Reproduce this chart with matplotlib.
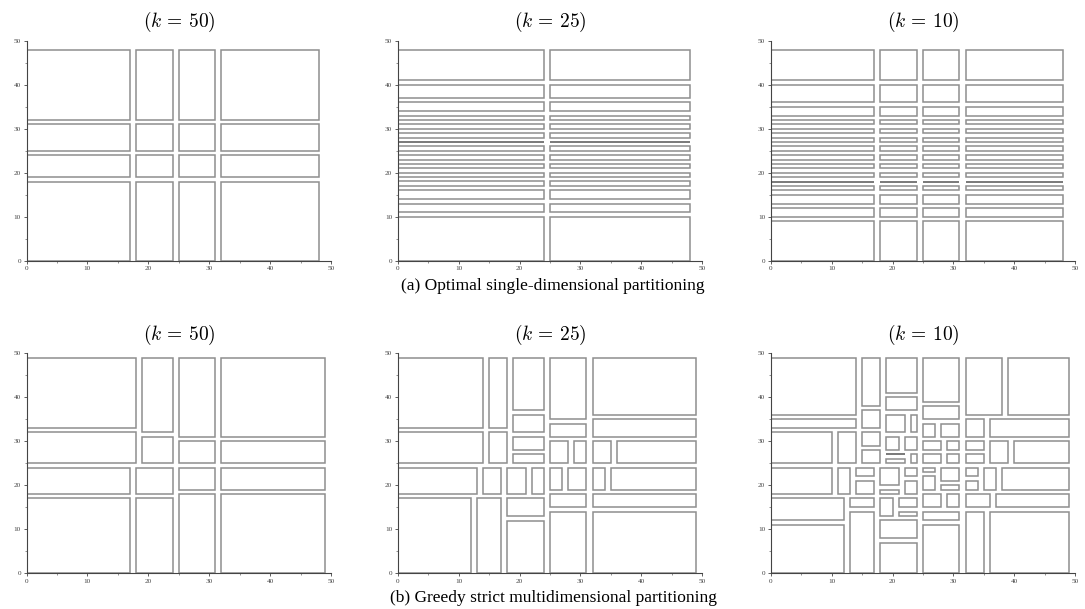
import matplotlib
matplotlib.use('Agg')
import matplotlib.pyplot as plt
from matplotlib.patches import Rectangle
from matplotlib.ticker import MultipleLocator

# --- data: bucket bounds, (lo, hi) in cell units ---
# (a) optimal single-dimensional partitioning -> grid of column x row
cols_a50 = [(0, 17), (18, 24), (25, 31), (32, 48)]
rows_a50 = [(0, 18), (19, 24), (25, 31), (32, 48)]

cols_a25 = [(0, 24), (25, 48)]
rows_a25 = [(0, 10), (11, 13), (14, 16), (17, 18), (19, 20), (21, 22), (23, 24),
            (25, 26), (27, 27), (28, 29), (30, 31), (32, 33), (34, 36), (37, 40), (41, 48)]

cols_a10 = [(0, 17), (18, 24), (25, 31), (32, 48)]
rows_a10 = [(0, 9), (10, 12), (13, 15), (16, 17), (18, 18), (19, 20), (21, 22), (23, 24),
            (25, 26), (27, 28), (29, 30), (31, 32), (33, 35), (36, 40), (41, 48)]

# (b) greedy strict multidimensional partitioning, (x0, x1, y0, y1)
rects_b50 = [
    (0, 18, 33, 49), (0, 18, 25, 32), (19, 24, 32, 49), (19, 24, 25, 31),
    (0, 17, 18, 24), (0, 17, 0, 17), (18, 24, 18, 24), (18, 24, 0, 17),
    (25, 31, 31, 49), (25, 31, 25, 30), (25, 31, 19, 24), (25, 31, 0, 18),
    (32, 49, 31, 49), (32, 49, 25, 30), (32, 49, 19, 24), (32, 49, 0, 18),
]

rects_b25 = [
    (0, 14, 33, 49), (0, 14, 25, 32), (15, 18, 33, 49), (15, 18, 25, 32),
    (19, 24, 37, 49), (19, 24, 32, 36), (19, 24, 28, 31), (19, 24, 25, 27),
    (25, 31, 35, 49), (25, 31, 31, 34), (25, 28, 25, 30), (29, 31, 25, 30),
    (32, 49, 36, 49), (32, 49, 31, 35), (32, 35, 25, 30), (36, 49, 25, 30),
    (0, 13, 18, 24), (14, 17, 18, 24), (18, 21, 18, 24), (22, 24, 18, 24),
    (25, 27, 19, 24), (28, 31, 19, 24), (32, 34, 19, 24), (35, 49, 19, 24),
    (0, 12, 0, 17), (13, 17, 0, 17), (18, 24, 13, 17), (18, 24, 0, 12),
    (25, 31, 15, 18), (25, 31, 0, 14), (32, 49, 15, 18), (32, 49, 0, 14),
]

rects_b10 = [
    (0, 14, 36, 49), (0, 14, 33, 35), (0, 10, 25, 32), (11, 14, 25, 32),
    (0, 10, 18, 24), (11, 13, 18, 24), (0, 12, 12, 17), (0, 12, 0, 11),
    (15, 18, 38, 49), (15, 18, 33, 37), (15, 18, 29, 32), (15, 18, 25, 28),
    (14, 17, 22, 24), (14, 17, 18, 21), (13, 17, 15, 17), (13, 17, 0, 14),
    (19, 24, 41, 49), (19, 24, 37, 40), (19, 22, 32, 36), (23, 24, 32, 36),
    (19, 21, 28, 31), (22, 24, 28, 31), (19, 22, 27, 27), (19, 22, 25, 26),
    (23, 24, 25, 27),
    (18, 21, 20, 24), (18, 21, 18, 19), (22, 24, 22, 24), (22, 24, 18, 21),
    (18, 20, 13, 17), (21, 24, 15, 17), (21, 24, 13, 14), (18, 24, 8, 12),
    (18, 24, 0, 7),
    (25, 31, 39, 49), (25, 31, 35, 38), (25, 27, 31, 34), (28, 31, 31, 34),
    (25, 28, 28, 30), (29, 31, 28, 30), (25, 28, 25, 27), (29, 31, 25, 27),
    (25, 27, 23, 24), (28, 31, 21, 24), (25, 27, 19, 22), (28, 31, 19, 20),
    (25, 28, 15, 18), (29, 31, 15, 18), (25, 31, 12, 14), (25, 31, 0, 11),
    (32, 38, 36, 49), (39, 49, 36, 49), (32, 35, 31, 35), (36, 49, 31, 35),
    (32, 35, 28, 30), (32, 35, 25, 27), (36, 39, 25, 30), (40, 49, 25, 30),
    (32, 34, 22, 24), (32, 34, 19, 21), (35, 37, 19, 24), (38, 49, 19, 24),
    (32, 36, 15, 18), (37, 49, 15, 18), (32, 35, 0, 14), (36, 49, 0, 14),
]

titles = ['$(k\\,=\\,50)$', '$(k\\,=\\,25)$', '$(k\\,=\\,10)$']
caption_a = '(a) Optimal single-dimensional partitioning'
caption_b = '(b) Greedy strict multidimensional partitioning'


def grid_rects(cols, rows):
    return [(c0, c1, r0, r1) for (c0, c1) in cols for (r0, r1) in rows]


panels_top = [grid_rects(cols_a50, rows_a50),
              grid_rects(cols_a25, rows_a25),
              grid_rects(cols_a10, rows_a10)]
panels_bot = [rects_b50, rects_b25, rects_b10]

plt.rcParams['mathtext.fontset'] = 'cm'
plt.rcParams['font.family'] = ['Liberation Serif', 'DejaVu Serif']

W, H = 1085, 609
fig = plt.figure(figsize=(W / 100, H / 100), dpi=100)

lefts = [26.5, 397.7, 770.7]
ax_w = 304.5
ax_h = 220.0
tops = [40.7, 353.3]


def draw_panel(ax, rects, title):
    for (x0, x1, y0, y1) in rects:
        # zero-height buckets show up as a darker single line
        col = '#555555' if (y1 == y0 or x1 == x0) else '#8e8e8e'
        ax.add_patch(Rectangle((x0, y0), x1 - x0, y1 - y0, fill=False,
                               edgecolor=col, lw=1.1))
    ax.set_xlim(0, 50)
    ax.set_ylim(0, 50)
    for s in ['top', 'right']:
        ax.spines[s].set_visible(False)
    for s in ['left', 'bottom']:
        ax.spines[s].set_color('#444444')
        ax.spines[s].set_linewidth(0.8)
    ax.xaxis.set_major_locator(MultipleLocator(10))
    ax.yaxis.set_major_locator(MultipleLocator(10))
    ax.xaxis.set_minor_locator(MultipleLocator(5))
    ax.yaxis.set_minor_locator(MultipleLocator(5))
    ax.tick_params(which='major', length=2.5, width=0.6, color='#444444',
                   labelsize=5.2, labelcolor='#444444', pad=1.5)
    ax.tick_params(which='minor', length=1.5, width=0.5, color='#666666')
    ax.text(0.5, 1.0 + 18.5 / ax_h, title, transform=ax.transAxes,
            ha='center', va='center', fontsize=14)


for row, (top, panels) in enumerate(zip(tops, [panels_top, panels_bot])):
    for i, rects in enumerate(panels):
        ax = fig.add_axes([lefts[i] / W, 1 - (top + ax_h) / H, ax_w / W, ax_h / H])
        draw_panel(ax, rects, titles[i])

fig.text(553 / W, 1 - 286 / H, caption_a, ha='center', va='center', fontsize=12.5)
fig.text(554 / W, 1 - 598 / H, caption_b, ha='center', va='center', fontsize=12.5)

fig.savefig('out.png', dpi=100)
